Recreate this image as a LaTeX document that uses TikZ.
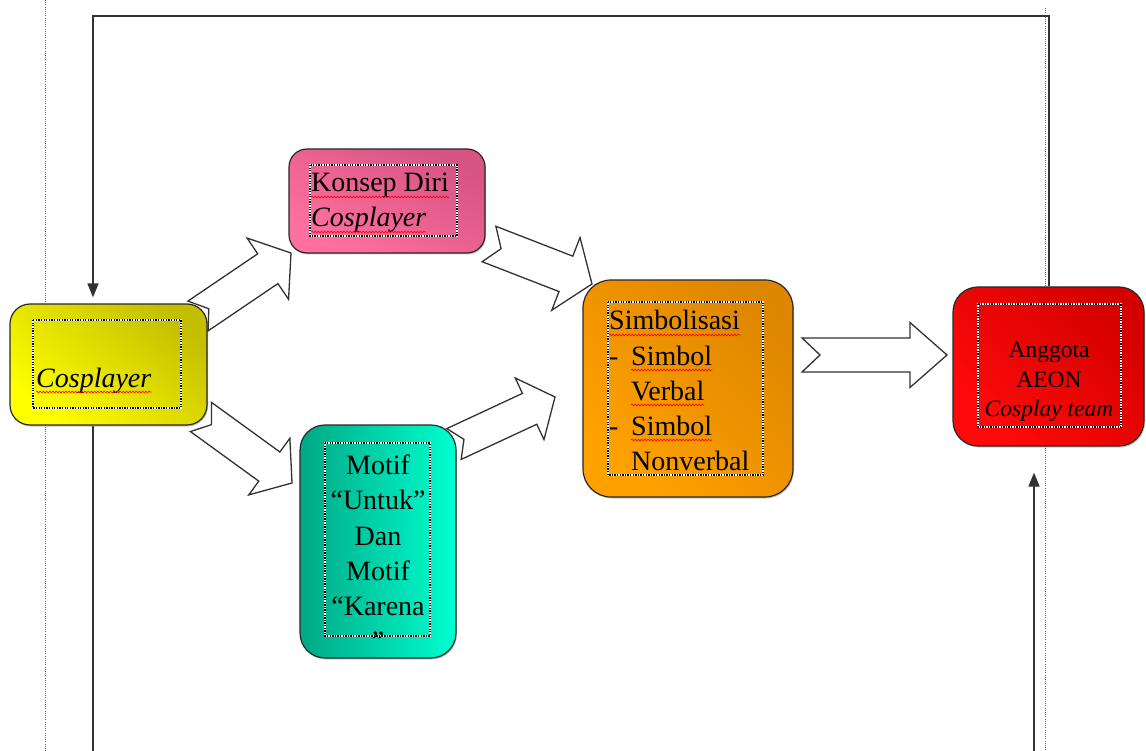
\documentclass[tikz,border=0pt]{standalone}
\usepackage{fontspec}
\setmainfont{Liberation Serif}
\usetikzlibrary{calc,arrows.meta,decorations.pathmorphing,shadows}
\pgfdeclarelayer{bg}
\pgfsetlayers{bg,main}
\definecolor{ylD}{RGB}{196,190,0}
\definecolor{ylL}{RGB}{255,255,0}
\definecolor{pkD}{RGB}{214,84,130}
\definecolor{pkL}{RGB}{255,112,160}
\definecolor{tlD}{RGB}{0,168,132}
\definecolor{tlL}{RGB}{0,255,208}
\definecolor{orD}{RGB}{222,134,0}
\definecolor{orL}{RGB}{255,162,0}
\definecolor{rdD}{RGB}{212,0,0}
\definecolor{rdL}{RGB}{255,10,10}
\definecolor{edge}{RGB}{40,40,40}
\definecolor{lineC}{RGB}{50,50,50}
\tikzset{
  box/.style={draw=edge, line width=1.2pt, inner sep=0pt,
    drop shadow={shadow xshift=1pt, shadow yshift=-1.5pt, opacity=0.45}},
  innerbox/.style={draw=black, line width=1.3pt, dash pattern=on 1.3pt off 1.3pt},
  innerwhite/.style={draw=white, line width=1.3pt},
  txt/.style={inner sep=0pt, font=\fontsize{28}{34}\selectfont},
  stxt/.style={inner sep=0pt, font=\fontsize{23.5}{29}\selectfont},
  barrow/.style={draw=lineC, line width=1.3pt, fill=white, line join=miter},
  conn/.style={draw=lineC, line width=1.5pt},
  tipd/.style={-{Triangle[length=14pt,width=11pt]}},
  margin/.style={draw=gray!80!black, line width=1pt, dash pattern=on 1pt off 1.2pt},
  squig/.style={draw=red, line width=0.6pt, decorate,
    decoration={snake, amplitude=0.9pt, segment length=3.2pt}}
}
\newcommand\blockarrow[6]{%
  \coordinate (tmpH) at ($(#2)!#5pt!(#1)$);
  \draw[barrow] ($(#1)!#3pt!90:(#2)$) -- ($(tmpH)!#3pt!-90:(#1)$) -- ($(tmpH)!#4pt!-90:(#1)$)
     -- (#2) -- ($(tmpH)!#4pt!90:(#1)$) -- ($(tmpH)!#3pt!90:(#1)$)
     -- ($(#1)!#3pt!-90:(#2)$) -- ($(#1)!#6pt!(#2)$) -- cycle;}
\newcommand\innerrect[4]{%
  \draw[innerwhite] (#1,#2) rectangle (#3,#4);
  \draw[innerbox] (#1,#2) rectangle (#3,#4);}
\newcommand\squigunder[1]{%
  \draw[squig] ($(#1.base west)+(0,5)$) -- ($(#1.base east)+(0,5)$);}
\begin{document}
\begin{tikzpicture}[x=1pt,y=-1pt]
\useasboundingbox (0,0) rectangle (1146,751);
% boxes
\node[box, rounded corners=20pt, minimum width=197pt, minimum height=121pt,
  top color=ylD, bottom color=ylL, shading angle=-40] (cos) at (108.5,364.5) {};
\node[box, rounded corners=18pt, minimum width=196pt, minimum height=104pt,
  top color=pkD, bottom color=pkL, shading angle=-30] (kon) at (387,201) {};
\node[box, rounded corners=25pt, minimum width=156pt, minimum height=233pt,
  left color=tlD, right color=tlL] (mot) at (378,541.5) {};
\node[box, rounded corners=28pt, minimum width=210pt, minimum height=217pt,
  top color=orD, bottom color=orL, shading angle=-45] (sim) at (688,388.5) {};
\node[box, rounded corners=25pt, minimum width=191pt, minimum height=159pt,
  top color=rdD, bottom color=rdL, shading angle=-45] (ang) at (1048.5,366.5) {};
% inner dotted frames
\innerrect{33}{320}{181}{408}
\innerrect{310}{165}{457}{236}
\innerrect{325}{443}{430}{636}
\innerrect{608}{302}{763}{475}
\innerrect{978}{304}{1121}{427}
% texts
\node[txt, anchor=base west] (tcos) at (36,387) {\itshape Cosplayer};
\node[txt, anchor=base west] (tkon1) at (311,192) {Konsep Diri};
\node[txt, anchor=base west] (tkon2) at (311,227) {\itshape Cosplayer};
\node[txt, anchor=base] (tm1) at (378,474) {Motif};
\node[txt, anchor=base] (tm2) at (378,509) {“Untuk”};
\node[txt, anchor=base] (tm3) at (378,545) {Dan};
\node[txt, anchor=base] (tm4) at (378,580) {Motif};
\node[txt, anchor=base] (tm5) at (378,615) {“Karena};
\node[txt, anchor=base] (tm6) at (378,650) {”};
\node[txt, anchor=base west] (ts1) at (609,330) {Simbolisasi};
\node[txt, anchor=base west] (ts2d) at (609,365) {-};
\node[txt, anchor=base west] (ts2) at (631,365) {Simbol};
\node[txt, anchor=base west] (ts3) at (631,400) {Verbal};
\node[txt, anchor=base west] (ts4d) at (609,435) {-};
\node[txt, anchor=base west] (ts4) at (631,435) {Simbol};
\node[txt, anchor=base west] (ts5) at (631,470) {Nonverbal};
\node[stxt, anchor=base] (ta1) at (1049,357) {Anggota};
\node[stxt, anchor=base] (ta2) at (1049,387) {AEON};
\node[stxt, anchor=base] (ta3) at (1049,416) {\itshape Cosplay team};
\squigunder{tcos}
\squigunder{tkon1}
\squigunder{tkon2}
\squigunder{ts1}
\squigunder{ts2}
\squigunder{ts3}
\squigunder{ts4}
% background: margins, connectors, block arrows
\begin{pgfonlayer}{bg}
  \draw[margin] (45,0) -- (45,751);
  \draw[margin] (1045,8) -- (1045,751);
  \coordinate (lx) at (93,0);
  \coordinate (rx) at (1049,0);
  \coordinate (ux) at (1034,0);
  \coordinate (topy) at (0,16);
  \coordinate (boty) at (0,751);
  \draw[conn, tipd, shorten >=6pt] (ang.north -| rx) |- (topy -| lx) -- (cos.north -| lx);
  \draw[conn] (cos.south -| lx) -- (boty -| lx);
  \draw[conn, tipd, shorten >=26pt] (boty -| ux) -- (ang.south -| ux);
  \coordinate (a1s) at (198,316);  \coordinate (a1e) at (291,253);
  \coordinate (a2s) at (201,417);  \coordinate (a2e) at (292,483);
  \coordinate (a3s) at (489,244);  \coordinate (a3e) at (592,284);
  \coordinate (a4s) at (454,444);  \coordinate (a4e) at (555,397);
  \coordinate (a5s) at (802,355);  \coordinate (a5e) at (947,355);
  \blockarrow{a1s}{a1e}{18}{37}{28}{13}
  \blockarrow{a2s}{a2e}{18}{35}{28}{13}
  \blockarrow{a3s}{a3e}{19}{39}{28}{13}
  \blockarrow{a4s}{a4e}{17}{34}{28}{11}
  \blockarrow{a5s}{a5e}{17}{32.5}{37}{18}
\end{pgfonlayer}
\end{tikzpicture}
\end{document}
